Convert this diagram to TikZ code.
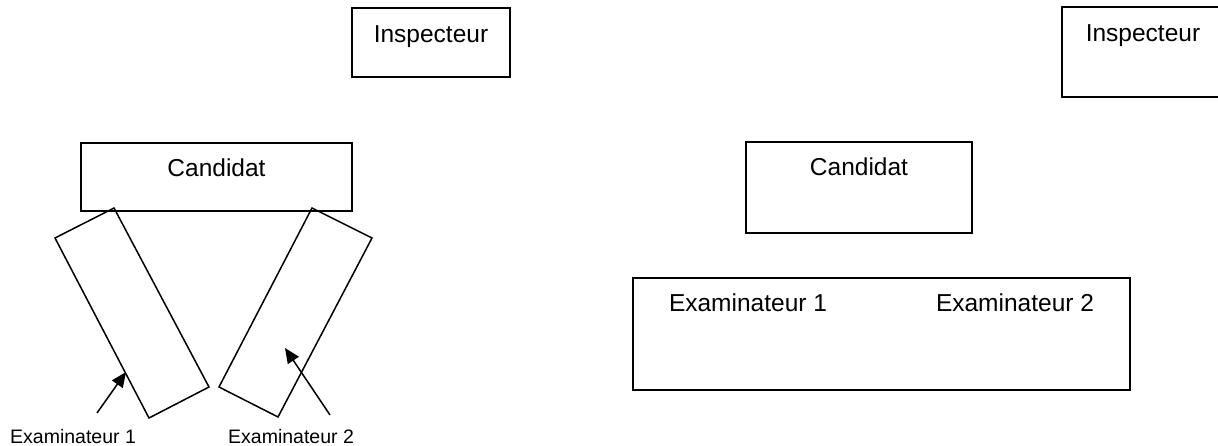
\documentclass[tikz,border=0pt]{standalone}
\usepackage{fontspec}
\setmainfont{Liberation Sans}
\usetikzlibrary{arrows.meta}
\begin{document}
\begin{tikzpicture}[x=1pt,y=-1pt,
  box/.style={draw=black,line width=1.5pt},
  bigtxt/.style={font=\fontsize{24.5}{28}\selectfont,inner sep=0pt,anchor=base},
  smalltxt/.style={font=\fontsize{19.5}{23}\selectfont,inner sep=0pt,anchor=base west},
  pointer/.style={line width=1.5pt,-{Triangle[length=15pt,width=13pt]}}]
\useasboundingbox (0,0) rectangle (1218,446);
\clip (0,0) rectangle (1218,446);
% ---- left layout ----
\draw[box] (352,8) rectangle (510,77);
\node[bigtxt] (insp1) at (431,43) {Inspecteur};
\draw[box] (81,143) rectangle (352,211);
\node[bigtxt] (cand1) at (216.5,177) {Candidat};
\draw[box] (55,238) -- (114,208) -- (209,387) -- (149,418) -- cycle;
\draw[box] (312,208) -- (372,238) -- (278,417) -- (219,387) -- cycle;
\node[smalltxt] (ex1) at (10,443) {Examinateur 1};
\node[smalltxt] (ex2) at (228,443) {Examinateur 2};
\coordinate (a1s) at (97,413);
\coordinate (a1e) at (126,372);
\coordinate (a2s) at (330,415);
\coordinate (a2e) at (285,348);
\draw[pointer] (a1s) -- (a1e);
\draw[pointer] (a2s) -- (a2e);
% ---- right layout ----
\draw[box] (1062,7) rectangle (1240,97);
\node[bigtxt] (insp2) at (1143,42) {Inspecteur};
\draw[box] (746,142) rectangle (972,233);
\node[bigtxt] (cand2) at (859,176) {Candidat};
\draw[box] (633,278) rectangle (1130,390);
\node[bigtxt] (rex1) at (748,312) {Examinateur 1};
\node[bigtxt] (rex2) at (1015,312) {Examinateur 2};
\end{tikzpicture}
\end{document}
